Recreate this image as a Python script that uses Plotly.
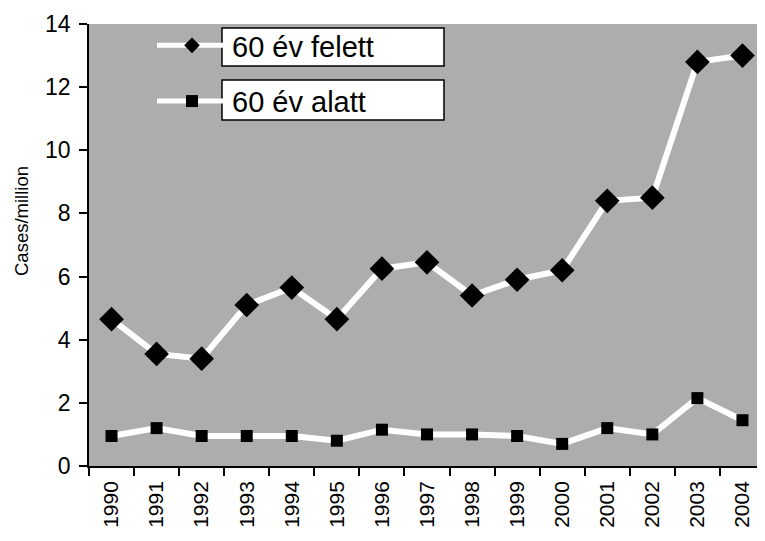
import plotly.graph_objects as go

years = ["1990", "1991", "1992", "1993", "1994", "1995", "1996", "1997",
         "1998", "1999", "2000", "2001", "2002", "2003", "2004"]
over60 = [4.65, 3.55, 3.4, 5.1, 5.65, 4.65, 6.25, 6.45, 5.4, 5.9, 6.2, 8.4, 8.5, 12.8, 13.0]
under60 = [0.95, 1.2, 0.95, 0.95, 0.95, 0.8, 1.15, 1.0, 1.0, 0.95, 0.7, 1.2, 1.0, 2.15, 1.45]
series_names = ["60 év felett", "60 év alatt"]
y_title = "Cases/million"

# page has an 8px body margin; size the figure so it fits the 765x541 window
OFF = 8
W, H = 765 - OFF, 541 - OFF
L, R, T, B = 89 - OFF, 0, 24 - OFF, 75
pw, ph = W - L - R, H - T - B

def px_x(p):
    return (p - OFF - L) / pw

def px_y(p):
    return (H - B - (p - OFF)) / ph

fig = go.Figure()
fig.add_trace(go.Scatter(
    x=years, y=over60, name=series_names[0], mode="lines+markers",
    line=dict(color="white", width=6),
    marker=dict(symbol="diamond", size=19, color="black"),
    legendgroup="a",
))
fig.add_trace(go.Scatter(
    x=years, y=under60, name=series_names[1], mode="lines+markers",
    line=dict(color="white", width=6),
    marker=dict(symbol="square", size=12, color="black"),
    legendgroup="b",
))

# white boxes behind legend labels
for y0, y1 in [(28, 66), (80, 120)]:
    fig.add_shape(type="rect", xref="paper", yref="paper",
                  x0=px_x(222), x1=px_x(444), y0=px_y(y1), y1=px_y(y0),
                  fillcolor="white", line=dict(color="black", width=1.5),
                  layer="above")

fig.add_annotation(text=y_title, xref="paper", yref="paper",
                   x=px_x(21), y=px_y(221), textangle=-90, showarrow=False,
                   xanchor="center", yanchor="middle",
                   font=dict(family="Arial, Liberation Sans", size=18.5, color="black"))

fig.update_layout(
    width=W, height=H,
    margin=dict(l=L, r=R, t=T, b=B, pad=0),
    paper_bgcolor="white",
    plot_bgcolor="#adadad",
    font=dict(family="Arial, Liberation Sans", color="black"),
    showlegend=True,
    legend=dict(
        x=px_x(152), y=px_y(20), xanchor="left", yanchor="top",
        bgcolor="rgba(0,0,0,0)", borderwidth=0,
        font=dict(size=29, color="black"),
        traceorder="grouped", tracegroupgap=15,
        itemsizing="constant", itemwidth=70,
    ),
)
fig.update_xaxes(
    type="category", range=[-0.5, len(years) - 0.5],
    showgrid=False, zeroline=False,
    showline=True, linecolor="black", linewidth=1.5,
    ticks="outside", tickson="boundaries", ticklen=8, tickcolor="black", tickwidth=1.5,
    tickangle=-90, tickfont=dict(size=21, color="black"),
    ticklabelstandoff=5,
)
fig.update_yaxes(
    range=[0, 14], dtick=2, tick0=0, showgrid=False, zeroline=False,
    showline=True, linecolor="black", linewidth=1.5,
    ticks="outside", ticklen=8, tickcolor="black", tickwidth=1.5,
    tickfont=dict(size=23, color="black"), ticklabelstandoff=4,
)

fig.write_html("out.html")
